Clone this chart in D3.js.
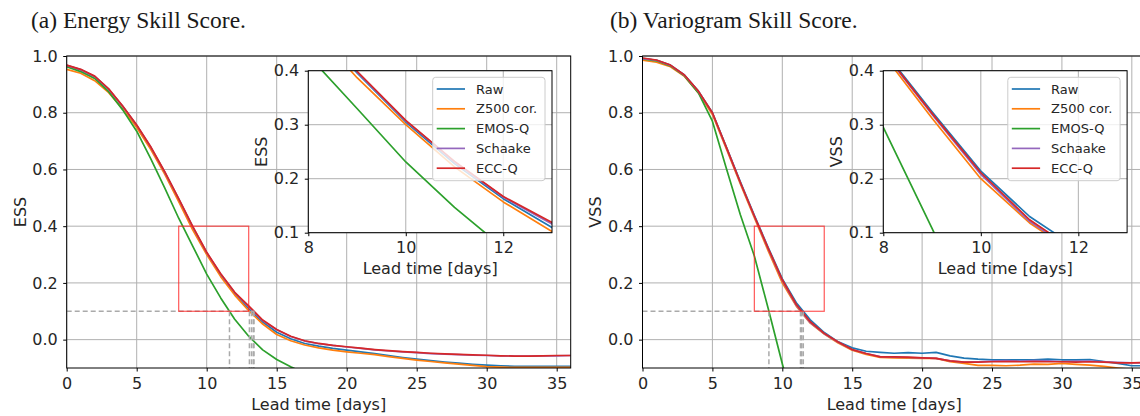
<!DOCTYPE html>
<html>
<head>
<meta charset="utf-8">
<script src="https://cdn.jsdelivr.net/npm/d3@7"></script>
<style>
  html, body { margin: 0; padding: 0; background: #ffffff; }
  svg { display: block; }
  text { font-family: "DejaVu Sans", sans-serif; fill: #262626; }
</style>
</head>
<body>
<svg id="chart" width="1140" height="416"></svg>
<script>
// ---------------- DATA ----------------
const leadDays = d3.range(0, 37); // 0..36 days
const seriesNames = ["Raw", "Z500 cor.", "EMOS-Q", "Schaake", "ECC-Q"];
const seriesColors = ["#1f77b4", "#ff7f0e", "#2ca02c", "#9467bd", "#d62728"];

// Energy Skill Score
const essRaw = [0.966,0.951,0.927,0.882,0.822,0.754,0.677,0.589,0.494,0.396,0.305,0.228,0.163,0.1095,0.062,0.026,0.003,-0.0135,-0.023,-0.031,-0.037,-0.043,-0.049,-0.056,-0.063,-0.069,-0.074,-0.079,-0.083,-0.087,-0.090,-0.092,-0.094,-0.094,-0.094,-0.094,-0.094];
const essZ500 = [0.953,0.939,0.913,0.871,0.813,0.748,0.671,0.584,0.487,0.387,0.300,0.222,0.157,0.1024,0.055,0.018,-0.004,-0.019,-0.029,-0.037,-0.043,-0.048,-0.053,-0.060,-0.066,-0.072,-0.077,-0.082,-0.086,-0.091,-0.095,-0.097,-0.098,-0.098,-0.098,-0.098,-0.098];
const essEmos = [0.962,0.945,0.921,0.874,0.810,0.735,0.638,0.535,0.428,0.330,0.231,0.147,0.072,0.012,-0.036,-0.070,-0.096,-0.118,-0.137,-0.152,-0.165,-0.175,-0.184,-0.192,-0.199,-0.205,-0.210,-0.215,-0.219,-0.223,-0.226,-0.229,-0.231,-0.233,-0.235,-0.236,-0.237];
const essSchaake = [0.967,0.952,0.928,0.883,0.823,0.756,0.679,0.591,0.496,0.398,0.307,0.231,0.166,0.116,0.067,0.035,0.011,-0.005,-0.014,-0.020,-0.026,-0.031,-0.036,-0.040,-0.043,-0.046,-0.049,-0.051,-0.053,-0.055,-0.056,-0.057,-0.058,-0.058,-0.057,-0.057,-0.056];
const essEccq = [0.968,0.953,0.929,0.884,0.824,0.757,0.680,0.592,0.497,0.399,0.308,0.232,0.167,0.119,0.069,0.036,0.012,-0.004,-0.0135,-0.020,-0.025,-0.030,-0.035,-0.039,-0.042,-0.045,-0.048,-0.050,-0.052,-0.054,-0.055,-0.057,-0.058,-0.058,-0.057,-0.056,-0.056];

// Variogram Skill Score
const vssRaw = [0.992,0.985,0.968,0.933,0.876,0.800,0.679,0.556,0.438,0.324,0.214,0.130,0.070,0.025,-0.008,-0.029,-0.041,-0.045,-0.048,-0.046,-0.048,-0.045,-0.057,-0.065,-0.069,-0.071,-0.071,-0.071,-0.071,-0.069,-0.071,-0.071,-0.070,-0.077,-0.084,-0.092,-0.092];
const vssZ500 = [0.985,0.978,0.962,0.928,0.870,0.794,0.672,0.549,0.430,0.312,0.200,0.118,0.058,0.020,-0.012,-0.037,-0.052,-0.063,-0.064,-0.065,-0.066,-0.066,-0.078,-0.084,-0.091,-0.091,-0.092,-0.090,-0.086,-0.087,-0.084,-0.087,-0.090,-0.094,-0.100,-0.105,-0.108];
const vssEmos = [0.990,0.983,0.965,0.930,0.870,0.770,0.603,0.440,0.295,0.108,-0.085,-0.270,-0.400,-0.480,-0.540,-0.580,-0.610,-0.630,-0.645,-0.655,-0.665,-0.672,-0.680,-0.686,-0.690,-0.695,-0.698,-0.700,-0.703,-0.705,-0.707,-0.709,-0.710,-0.712,-0.713,-0.714,-0.715];
const vssSchaake = [0.991,0.985,0.967,0.932,0.875,0.799,0.677,0.553,0.435,0.319,0.208,0.121,0.060,0.021,-0.009,-0.035,-0.049,-0.060,-0.062,-0.063,-0.064,-0.066,-0.075,-0.079,-0.078,-0.076,-0.074,-0.076,-0.074,-0.075,-0.077,-0.076,-0.076,-0.078,-0.080,-0.082,-0.082];
const vssEccq = [0.993,0.986,0.968,0.933,0.876,0.800,0.678,0.554,0.436,0.321,0.211,0.124,0.063,0.022,-0.008,-0.035,-0.049,-0.061,-0.061,-0.062,-0.064,-0.066,-0.075,-0.079,-0.079,-0.078,-0.077,-0.078,-0.077,-0.078,-0.078,-0.079,-0.078,-0.079,-0.082,-0.082,-0.080];

// Axis ticks
const mainXTicks = [0, 5, 10, 15, 20, 25, 30, 35];
const mainYTicks = [0.0, 0.2, 0.4, 0.6, 0.8, 1.0];
const insetXTicks = [8, 10, 12];
const insetYTicks = [0.1, 0.2, 0.3, 0.4];
const mainXDomain = [0, 36];
const mainYDomain = [-0.1, 1.0];
const insetXDomain = [8, 13];
const insetYDomain = [0.1, 0.4];
const thresholdValue = 0.1;

const panelTitles = ["(a) Energy Skill Score.", "(b) Variogram Skill Score."];
const panelYLabels = ["ESS", "VSS"];
const xLabel = "Lead time [days]";

// ---------------- DRAW ----------------
const svg = d3.select("#chart");
svg.append("rect").attr("width", 1140).attr("height", 416).attr("fill", "#fff");

const panels = [
  { title: panelTitles[0], ylab: panelYLabels[0], series: [essRaw, essZ500, essEmos, essSchaake, essEccq],
    main: { x0: 66.7, x1: 570.7 }, inset: { x0: 308.3, x1: 552.0 }, titleX: 31, id: "a" },
  { title: panelTitles[1], ylab: panelYLabels[1], series: [vssRaw, vssZ500, vssEmos, vssSchaake, vssEccq],
    main: { x0: 642.5, x1: 1145.8 }, inset: { x0: 883.3, x1: 1127.1 }, titleX: 610, id: "b" }
];
const mainTop = 56, mainBottom = 368;
const insetTop = 70.7, insetBottom = 232.7;
const gridColor = "#b0b0b0";

function crossing(vals, thr) {
  for (let i = 1; i < vals.length; i++) {
    if (vals[i - 1] >= thr && vals[i] < thr) {
      return leadDays[i - 1] + (vals[i - 1] - thr) / (vals[i - 1] - vals[i]) * (leadDays[i] - leadDays[i - 1]);
    }
  }
  return null;
}

panels.forEach((p, pi) => {
  const x = d3.scaleLinear(mainXDomain, [p.main.x0, p.main.x1]);
  const y = d3.scaleLinear(mainYDomain, [mainBottom, mainTop]);
  const g = svg.append("g");

  // title
  svg.append("text").attr("x", p.titleX).attr("y", 28)
    .style("font-family", "'Liberation Serif', 'Times New Roman', serif")
    .style("font-size", "23.5px").style("fill", "#1a1a1a")
    .text(p.title);

  const clipId = "clip-main-" + p.id;
  svg.append("clipPath").attr("id", clipId).append("rect")
    .attr("x", x(mainXDomain[0])).attr("y", mainTop)
    .attr("width", x(mainXDomain[1]) - x(mainXDomain[0])).attr("height", mainBottom - mainTop);

  // grid
  g.append("g").selectAll("line").data(mainXTicks).join("line")
    .attr("x1", d => x(d)).attr("x2", d => x(d)).attr("y1", mainTop).attr("y2", mainBottom)
    .attr("stroke", gridColor).attr("stroke-width", 1);
  g.append("g").selectAll("line").data(mainYTicks).join("line")
    .attr("x1", x(mainXDomain[0])).attr("x2", x(mainXDomain[1])).attr("y1", d => y(d)).attr("y2", d => y(d))
    .attr("stroke", gridColor).attr("stroke-width", 1);

  const line = d3.line().x((d, i) => x(leadDays[i])).y(d => y(d));
  const lg = g.append("g").attr("clip-path", `url(#${clipId})`);
  p.series.forEach((s, si) => {
    lg.append("path").attr("d", line(s)).attr("fill", "none")
      .attr("stroke", seriesColors[si]).attr("stroke-width", 1.7)
      .attr("stroke-linejoin", "round");
  });

  // threshold dashed lines
  const cross = p.series.map(s => crossing(s, thresholdValue)).filter(c => c !== null);
  const maxCross = d3.max(cross);
  lg.append("line").attr("x1", x(0)).attr("x2", x(maxCross))
    .attr("y1", y(thresholdValue)).attr("y2", y(thresholdValue))
    .attr("stroke", "#aaaaaa").attr("stroke-width", 1.5).attr("stroke-dasharray", "5,3");
  cross.forEach(c => {
    lg.append("line").attr("x1", x(c)).attr("x2", x(c))
      .attr("y1", y(thresholdValue)).attr("y2", y(mainYDomain[0]))
      .attr("stroke", "#aaaaaa").attr("stroke-width", 1.5).attr("stroke-dasharray", "5,3");
  });

  // zoom rectangle
  g.append("rect").attr("x", x(insetXDomain[0])).attr("y", y(insetYDomain[1]))
    .attr("width", x(insetXDomain[1]) - x(insetXDomain[0]))
    .attr("height", y(insetYDomain[0]) - y(insetYDomain[1]))
    .attr("fill", "none").attr("stroke", "#ff2020").attr("stroke-opacity", 0.75).attr("stroke-width", 1.2);

  // spines
  g.append("rect").attr("x", x(mainXDomain[0])).attr("y", mainTop)
    .attr("width", x(mainXDomain[1]) - x(mainXDomain[0])).attr("height", mainBottom - mainTop)
    .attr("fill", "none").attr("stroke", "#000").attr("stroke-width", 1);

  // axes
  const ax = g.append("g").attr("transform", `translate(0,${mainBottom})`)
    .call(d3.axisBottom(x).tickValues(mainXTicks).tickFormat(d3.format("d")).tickSize(3.5).tickPadding(6));
  const ay = g.append("g").attr("transform", `translate(${x(mainXDomain[0])},0)`)
    .call(d3.axisLeft(y).tickValues(mainYTicks).tickFormat(d3.format(".1f")).tickSize(3.5).tickPadding(5.5));
  [ax, ay].forEach(a => {
    a.select(".domain").remove();
    a.selectAll("text").style("font-size", "16px").style("font-family", "'DejaVu Sans', sans-serif").attr("fill", "#262626");
    a.selectAll("line").attr("stroke", "#000");
  });

  g.append("text").attr("x", (x(mainXDomain[0]) + x(mainXDomain[1])) / 2).attr("y", 410)
    .attr("text-anchor", "middle").style("font-size", "16px").text(xLabel);
  g.append("text").attr("transform", `translate(${x(mainXDomain[0]) - 41.2},${(mainTop + mainBottom) / 2}) rotate(-90)`)
    .attr("text-anchor", "middle").style("font-size", "16px").text(p.ylab);

  // ---------- inset ----------
  const xi = d3.scaleLinear(insetXDomain, [p.inset.x0, p.inset.x1]);
  const yi = d3.scaleLinear(insetYDomain, [insetBottom, insetTop]);
  const ig = svg.append("g");
  ig.append("rect").attr("x", p.inset.x0).attr("y", insetTop)
    .attr("width", p.inset.x1 - p.inset.x0).attr("height", insetBottom - insetTop).attr("fill", "#fff");
  const iclipId = "clip-inset-" + p.id;
  svg.append("clipPath").attr("id", iclipId).append("rect")
    .attr("x", p.inset.x0).attr("y", insetTop)
    .attr("width", p.inset.x1 - p.inset.x0).attr("height", insetBottom - insetTop);
  ig.append("g").selectAll("line").data(insetXTicks).join("line")
    .attr("x1", d => xi(d)).attr("x2", d => xi(d)).attr("y1", insetTop).attr("y2", insetBottom)
    .attr("stroke", gridColor).attr("stroke-width", 1);
  ig.append("g").selectAll("line").data(insetYTicks).join("line")
    .attr("x1", p.inset.x0).attr("x2", p.inset.x1).attr("y1", d => yi(d)).attr("y2", d => yi(d))
    .attr("stroke", gridColor).attr("stroke-width", 1);
  const iline = d3.line().x((d, i) => xi(leadDays[i])).y(d => yi(d));
  const ilg = ig.append("g").attr("clip-path", `url(#${iclipId})`);
  p.series.forEach((s, si) => {
    ilg.append("path").attr("d", iline(s)).attr("fill", "none")
      .attr("stroke", seriesColors[si]).attr("stroke-width", 1.7).attr("stroke-linejoin", "round");
  });

  // legend
  const legX0 = p.inset.x1 - 7 - 112.3, legY0 = 77.3, legW = 112.3, legH = 103.4;
  const leg = ig.append("g");
  leg.append("rect").attr("x", legX0).attr("y", legY0).attr("width", legW).attr("height", legH)
    .attr("rx", 3).attr("fill", "#fff").attr("fill-opacity", 0.8)
    .attr("stroke", "#cccccc").attr("stroke-width", 1);
  seriesNames.forEach((nm, si) => {
    const cy = legY0 + 11.7 + si * 19.8;
    leg.append("line").attr("x1", legX0 + 4).attr("x2", legX0 + 32.3).attr("y1", cy).attr("y2", cy)
      .attr("stroke", seriesColors[si]).attr("stroke-width", 1.7);
    leg.append("text").attr("x", legX0 + 43.3).attr("y", cy).attr("dy", "0.36em")
      .style("font-size", "13px").text(nm);
  });

  ig.append("rect").attr("x", p.inset.x0).attr("y", insetTop)
    .attr("width", p.inset.x1 - p.inset.x0).attr("height", insetBottom - insetTop)
    .attr("fill", "none").attr("stroke", "#000").attr("stroke-width", 1);

  const iax = ig.append("g").attr("transform", `translate(0,${insetBottom})`)
    .call(d3.axisBottom(xi).tickValues(insetXTicks).tickFormat(d3.format("d")).tickSize(3.5).tickPadding(5.5));
  const iay = ig.append("g").attr("transform", `translate(${p.inset.x0},0)`)
    .call(d3.axisLeft(yi).tickValues(insetYTicks).tickFormat(d3.format(".1f")).tickSize(3.5).tickPadding(5.5));
  [iax, iay].forEach(a => {
    a.select(".domain").remove();
    a.selectAll("text").style("font-size", "16px").style("font-family", "'DejaVu Sans', sans-serif").attr("fill", "#262626");
    a.selectAll("line").attr("stroke", "#000");
  });
  ig.append("text").attr("x", (p.inset.x0 + p.inset.x1) / 2).attr("y", 274)
    .attr("text-anchor", "middle").style("font-size", "16px").text(xLabel);
  ig.append("text").attr("transform", `translate(${p.inset.x0 - 41},${(insetTop + insetBottom) / 2}) rotate(-90)`)
    .attr("text-anchor", "middle").style("font-size", "16px").text(p.ylab);
});
</script>
</body>
</html>
